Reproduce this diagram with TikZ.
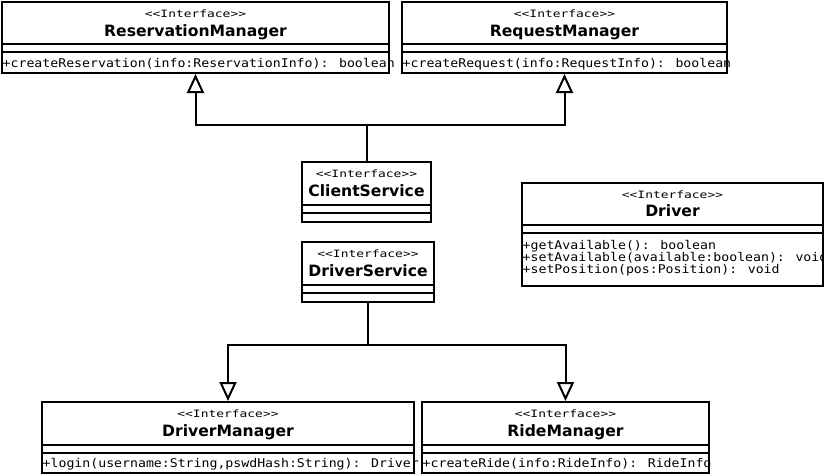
\documentclass[tikz,border=0pt]{standalone}
\usepackage{fontspec}
\usetikzlibrary{calc,arrows.meta}
\newfontfamily\methfont[FakeStretch=1.1]{DejaVu Sans Mono}
\newfontfamily\sterfont[FakeStretch=1.28]{DejaVu Sans Mono}
\newfontfamily\namefont{DejaVu Sans}
\newcommand{\stereo}{<\kern0pt<Interface>\kern0pt>}
\tikzset{
  umlbox/.style={draw=black, line width=2pt, rectangle, inner sep=0pt, anchor=north west, fill=white},
  sepline/.style={draw=black, line width=2pt},
  sttext/.style={font=\sterfont\fontsize{10.1pt}{11pt}\selectfont, inner sep=0pt, anchor=base},
  nmtext/.style={font=\namefont\bfseries\fontsize{15.6pt}{17pt}\selectfont, inner sep=0pt, anchor=base},
  mtext/.style={font=\methfont\fontsize{12pt}{12pt}\selectfont, inner sep=0pt, anchor=base west},
  inh/.style={draw=black, line width=2pt, -{Triangle[open, length=19pt, width=17pt]}},
  plainconn/.style={draw=black, line width=2pt}
}
\begin{document}
\begin{tikzpicture}[x=1pt, y=-1pt]
\useasboundingbox (0,0) rectangle (824,474);
% ---------- ReservationManager
\node[umlbox, minimum width=387pt, minimum height=71pt] (rm) at (1,1) {};
\draw[sepline] ($(rm.north west)+(0,43)$) -- ($(rm.north east)+(0,43)$);
\draw[sepline] ($(rm.north west)+(0,51)$) -- ($(rm.north east)+(0,51)$);
\node[sttext] (rms) at ($(rm.north)+(0,16.5)$) {\stereo};
\node[nmtext] (rmn) at ($(rm.north)+(0,35.5)$) {ReservationManager};
\node[mtext] (rmm) at ($(rm.north west)+(1.5,66)$) {+createReservation(info:ReservationInfo): boolean};
% ---------- RequestManager
\node[umlbox, minimum width=325pt, minimum height=71pt] (qm) at (401,1) {};
\draw[sepline] ($(qm.north west)+(0,43)$) -- ($(qm.north east)+(0,43)$);
\draw[sepline] ($(qm.north west)+(0,51)$) -- ($(qm.north east)+(0,51)$);
\node[sttext] (qms) at ($(qm.north)+(0,16.5)$) {\stereo};
\node[nmtext] (qmn) at ($(qm.north)+(0,35.5)$) {RequestManager};
\node[mtext] (qmm) at ($(qm.north west)+(1.5,66)$) {+createRequest(info:RequestInfo): boolean};
% ---------- ClientService
\node[umlbox, minimum width=129pt, minimum height=60pt] (cs) at (301,161) {};
\draw[sepline] ($(cs.north west)+(0,44)$) -- ($(cs.north east)+(0,44)$);
\draw[sepline] ($(cs.north west)+(0,52)$) -- ($(cs.north east)+(0,52)$);
\node[sttext] (css) at ($(cs.north)+(0,16.5)$) {\stereo};
\node[nmtext] (csn) at ($(cs.north)+(0,35)$) {ClientService};
% ---------- DriverService
\node[umlbox, minimum width=132pt, minimum height=60pt] (ds) at (301,241) {};
\draw[sepline] ($(ds.north west)+(0,44)$) -- ($(ds.north east)+(0,44)$);
\draw[sepline] ($(ds.north west)+(0,52)$) -- ($(ds.north east)+(0,52)$);
\node[sttext] (dss) at ($(ds.north)+(0,16.5)$) {\stereo};
\node[nmtext] (dsn) at ($(ds.north)+(0,35)$) {DriverService};
% ---------- Driver
\node[umlbox, minimum width=301pt, minimum height=103pt] (dr) at (521,182) {};
\draw[sepline] ($(dr.north west)+(0,42.5)$) -- ($(dr.north east)+(0,42.5)$);
\draw[sepline] ($(dr.north west)+(0,50.5)$) -- ($(dr.north east)+(0,50.5)$);
\node[sttext] (drs) at ($(dr.north)+(0,16)$) {\stereo};
\node[nmtext] (drn) at ($(dr.north)+(0,34.5)$) {Driver};
\node[mtext] (drm1) at ($(dr.north west)+(1.5,67.5)$) {+getAvailable(): boolean};
\node[mtext] (drm2) at ($(dr.north west)+(1.5,79.5)$) {+setAvailable(available:boolean): void};
\node[mtext] (drm3) at ($(dr.north west)+(1.5,91.5)$) {+setPosition(pos:Position): void};
% ---------- DriverManager
\node[umlbox, minimum width=372pt, minimum height=71pt] (dm) at (41,401) {};
\draw[sepline] ($(dm.north west)+(0,44)$) -- ($(dm.north east)+(0,44)$);
\draw[sepline] ($(dm.north west)+(0,51.5)$) -- ($(dm.north east)+(0,51.5)$);
\node[sttext] (dms) at ($(dm.north)+(0,16.5)$) {\stereo};
\node[nmtext] (dmn) at ($(dm.north)+(0,35.5)$) {DriverManager};
\node[mtext] (dmm) at ($(dm.north west)+(1.5,66)$) {+login(username:String,pswdHash:String): Driver};
% ---------- RideManager
\node[umlbox, minimum width=287pt, minimum height=71pt] (ri) at (421,401) {};
\draw[sepline] ($(ri.north west)+(0,44)$) -- ($(ri.north east)+(0,44)$);
\draw[sepline] ($(ri.north west)+(0,51.5)$) -- ($(ri.north east)+(0,51.5)$);
\node[sttext] (ris) at ($(ri.north)+(0,16.5)$) {\stereo};
\node[nmtext] (rin) at ($(ri.north)+(0,35.5)$) {RideManager};
\node[mtext] (rim) at ($(ri.north west)+(1.5,66)$) {+createRide(info:RideInfo): RideInfo};
% ---------- connectors
\coordinate (jtop) at ($(cs.north)+(0,-36.5)$);
\coordinate (jbot) at ($(ds.south)+(0,42)$);
\draw[plainconn] (cs.north) -- (jtop);
\draw[inh] (jtop) -| (rm.south);
\draw[inh] (jtop) -| (qm.south);
\draw[plainconn] (ds.south) -- (jbot);
\draw[inh] (jbot) -| (dm.north);
\draw[inh] (jbot) -| (ri.north);
\end{tikzpicture}
\end{document}
